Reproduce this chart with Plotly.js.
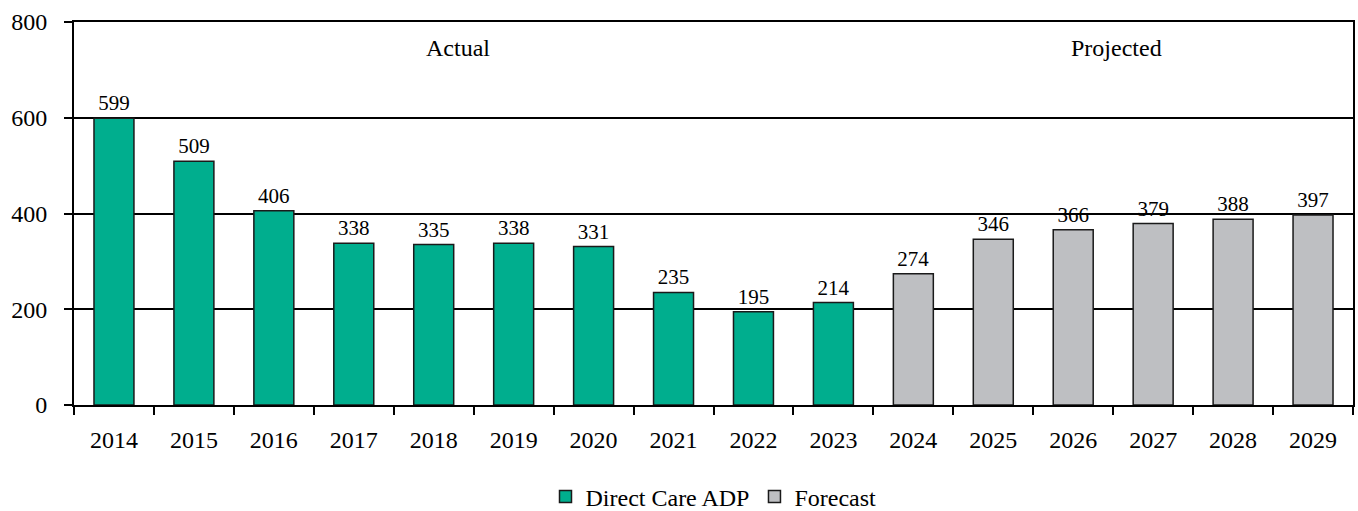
<!DOCTYPE html>
<html>
<head>
<meta charset="utf-8">
<script src="https://cdn.plot.ly/plotly-3.0.1.min.js"></script>
<style>html,body{margin:0;padding:0;background:#fff;}#chart{width:1358px;height:511px;}</style>
</head>
<body>
<div id="chart"></div>
<script>
const actualYears = ['2014','2015','2016','2017','2018','2019','2020','2021','2022','2023'];
const actualValues = [599, 509, 406, 338, 335, 338, 331, 235, 195, 214];
const forecastYears = ['2024','2025','2026','2027','2028','2029'];
const forecastValues = [274, 346, 366, 379, 388, 397];
const allYears = actualYears.concat(forecastYears);
const yTicks = [0, 200, 400, 600, 800];

const FONT = 'Liberation Serif, Times New Roman, serif';

const traces = [
  {
    type: 'bar', name: 'Direct Care ADP', x: actualYears, y: actualValues,
    marker: {color: '#00AE8E', line: {color: '#1a1a1a', width: 1.5}},
    width: 0.5, text: actualValues.map(String), textposition: 'outside',
    textfont: {family: FONT, size: 21, color: '#000'}, cliponaxis: false
  },
  {
    type: 'bar', name: 'Forecast', x: forecastYears, y: forecastValues,
    marker: {color: '#BEBFC2', line: {color: '#1a1a1a', width: 1.5}},
    width: 0.5, text: forecastValues.map(String), textposition: 'outside',
    textfont: {family: FONT, size: 21, color: '#000'}, cliponaxis: false
  }
];

const layout = {
  width: 1358, height: 511,
  margin: {l: 74, r: 5, t: 22, b: 106, autoexpand: false},
  paper_bgcolor: '#fff', plot_bgcolor: '#fff',
  barmode: 'overlay',
  font: {family: FONT, size: 24, color: '#000'},
  showlegend: true,
  legend: {orientation: 'h', x: 0.5, xanchor: 'center', y: -0.24, yanchor: 'middle',
           font: {family: FONT, size: 24, color: '#000'}, itemwidth: 30, tracegroupgap: 0},
  xaxis: {
    type: 'category', categoryorder: 'array', categoryarray: allYears,
    range: [-0.5, allYears.length - 0.5],
    showline: true, linecolor: '#000', linewidth: 2, mirror: true,
    ticks: 'outside', tickson: 'boundaries', ticklen: 8, tickwidth: 2, tickcolor: '#000',
    ticklabelstandoff: 12, automargin: false,
    showgrid: false, tickfont: {family: FONT, size: 24, color: '#000'}
  },
  yaxis: {
    range: [0, 800], tickvals: yTicks, ticktext: yTicks.map(String),
    showline: true, linecolor: '#000', linewidth: 2, mirror: true,
    ticks: 'outside', ticklen: 8, tickwidth: 2, tickcolor: '#000',
    ticklabelstandoff: 12, automargin: false,
    showgrid: true, gridcolor: '#000', gridwidth: 2, zeroline: false,
    tickfont: {family: FONT, size: 24, color: '#000'}
  },
  annotations: [
    {x: 4.3, y: 746, xref: 'x', yref: 'y', text: 'Actual', showarrow: false,
     font: {family: FONT, size: 24, color: '#000'}},
    {x: 12.54, y: 746, xref: 'x', yref: 'y', text: 'Projected', showarrow: false,
     font: {family: FONT, size: 24, color: '#000'}}
  ]
};

Plotly.newPlot('chart', traces, layout, {displayModeBar: false, staticPlot: true});
</script>
</body>
</html>
